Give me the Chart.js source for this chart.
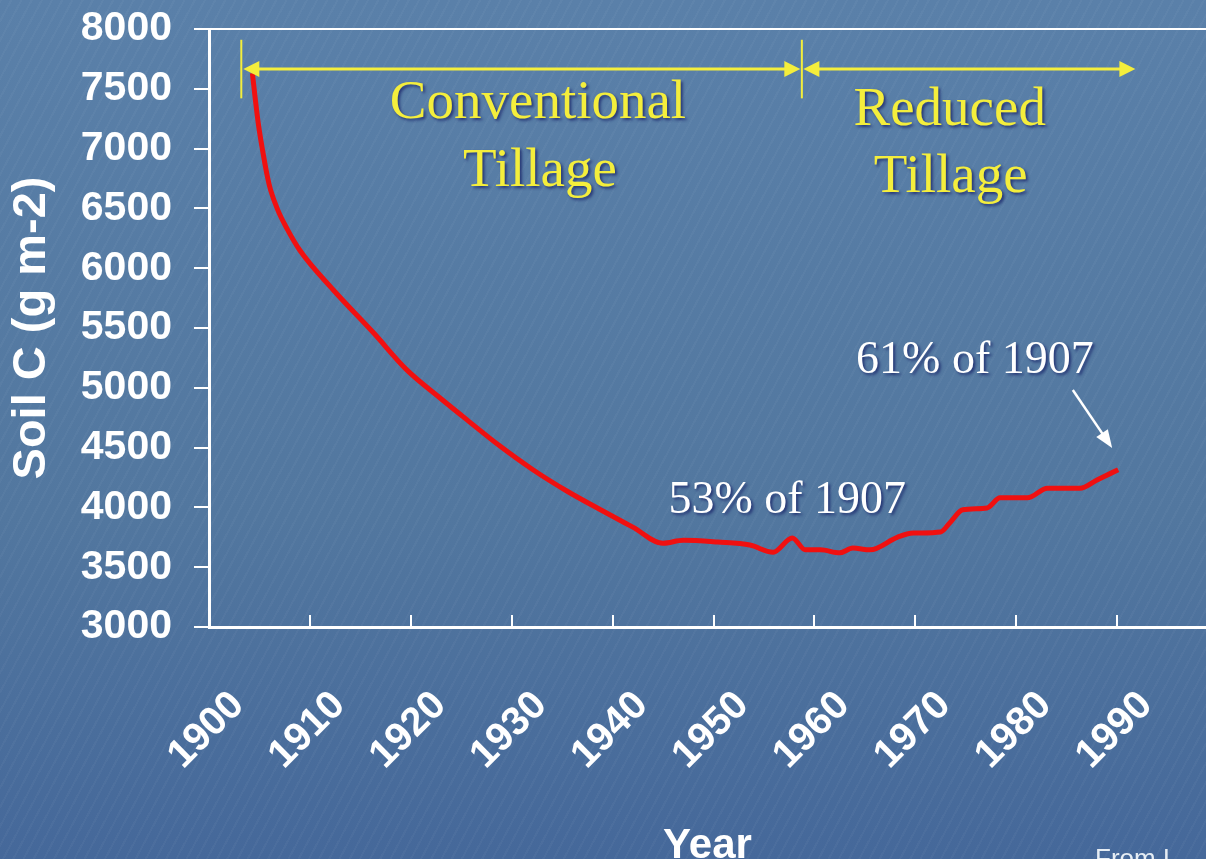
<!DOCTYPE html>
<html>
<head>
<meta charset="utf-8">
<script src="https://cdn.jsdelivr.net/npm/chart.js@4.4.0/dist/chart.umd.min.js"></script>
<style>
  html, body { margin: 0; padding: 0; }
  body {
    width: 1206px; height: 859px; overflow: hidden; position: relative;
    background:
      repeating-linear-gradient(118deg, rgba(255,255,255,0.03) 0 2px, rgba(0,0,0,0) 2px 9px),
      linear-gradient(#5a80a9, #52779f 60%, #45689a);
  }
  #chart { position: absolute; left: 0; top: 0; }
  #src { position: absolute; left: 1095px; top: 843px; font: 26px 'Liberation Sans', Arial, sans-serif; color: #e6edf4; white-space: nowrap; }
</style>
</head>
<body>
<canvas id="chart" width="1206" height="859"></canvas>
<div id="src">From L</div>
<script>
// soil carbon
var years = [1904.3, 1904.6, 1904.9, 1905.3, 1905.8, 1906.1, 1906.8, 1907.7, 1909.0, 1912.3,
             1916.3, 1919.6, 1922.9, 1925.6, 1928.8, 1932.1, 1935.5, 1938.8, 1942.0, 1945.0,
             1947.0, 1950.4, 1953.6, 1955.9, 1957.8, 1959.1, 1960.6, 1962.5, 1963.8, 1965.5,
             1968.2, 1969.8, 1972.5, 1973.4, 1974.7, 1977.1, 1978.4, 1981.1, 1983.1, 1986.3,
             1988.0, 1990.1];
var soilC = [7630, 7405, 7200, 6990, 6760, 6655, 6490, 6335, 6150, 5820,
             5460, 5150, 4915, 4730, 4515, 4315, 4135, 3980, 3835, 3700,
             3725, 3710, 3685, 3625, 3745, 3645, 3645, 3620, 3660, 3645,
             3750, 3785, 3795, 3870, 3980, 3995, 4080, 4080, 4160, 4160,
             4230, 4315];
var yearTicks = [1900, 1910, 1920, 1930, 1940, 1950, 1960, 1970, 1980, 1990];
var carbonTicks = [3000, 3500, 4000, 4500, 5000, 5500, 6000, 6500, 7000, 7500, 8000];

var yellow = '#f4ee3c';
var spans = [
  { from: 1903.4, to: 1958.6 },
  { from: 1958.9, to: 1991.8 }
];
var notes = [
  { text: 'Conventional', x: 1932.6, y: 7256, color: yellow, size: 55 },
  { text: 'Tillage', x: 1932.8, y: 6687, color: yellow, size: 55 },
  { text: 'Reduced', x: 1973.4, y: 7197, color: yellow, size: 55 },
  { text: 'Tillage', x: 1973.5, y: 6637, color: yellow, size: 55 },
  { text: '53% of 1907', x: 1957.3, y: 3953, color: '#ffffff', size: 46 },
  { text: '61% of 1907', x: 1975.9, y: 5124, color: '#ffffff', size: 46 }
];

var points = years.map(function (yr, i) { return { x: yr, y: soilC[i] }; });

function head(ctx, x1, y1, x2, y2, len, half) {
  var a = Math.atan2(y2 - y1, x2 - x1);
  ctx.beginPath();
  ctx.moveTo(x2, y2);
  ctx.lineTo(x2 - len * Math.cos(a) + half * Math.sin(a), y2 - len * Math.sin(a) - half * Math.cos(a));
  ctx.lineTo(x2 - len * Math.cos(a) - half * Math.sin(a), y2 - len * Math.sin(a) + half * Math.cos(a));
  ctx.closePath();
  ctx.fill();
}

var notesPlugin = {
  id: 'notes',
  afterDatasetsDraw: function (chart) {
    var ctx = chart.ctx, xs = chart.scales.x, ys = chart.scales.y;
    ctx.save();
    // tillage periods
    var ay = ys.getPixelForValue(7666);
    ctx.strokeStyle = yellow; ctx.fillStyle = yellow; ctx.lineWidth = 3;
    spans.forEach(function (s) {
      var a = xs.getPixelForValue(s.from), b = xs.getPixelForValue(s.to);
      ctx.beginPath(); ctx.moveTo(a + 10, ay); ctx.lineTo(b - 10, ay); ctx.stroke();
      head(ctx, b, ay, a, ay, 16, 8);
      head(ctx, a, ay, b, ay, 16, 8);
    });
    ctx.lineWidth = 2;
    [1903.2, 1958.75].forEach(function (yr) {
      var px = xs.getPixelForValue(yr);
      ctx.beginPath();
      ctx.moveTo(px, ys.getPixelForValue(7910));
      ctx.lineTo(px, ys.getPixelForValue(7420));
      ctx.stroke();
    });
    // labels
    ctx.textAlign = 'center'; ctx.textBaseline = 'alphabetic';
    notes.forEach(function (n) {
      ctx.font = n.size + 'px "Liberation Serif", "Times New Roman", serif';
      ctx.shadowColor = 'rgba(20,30,100,0.75)';
      ctx.shadowOffsetX = 2; ctx.shadowOffsetY = 2; ctx.shadowBlur = 3;
      ctx.fillStyle = n.color;
      ctx.fillText(n.text, xs.getPixelForValue(n.x), ys.getPixelForValue(n.y));
    });
    ctx.shadowColor = 'transparent';
    // pointer to the end value
    var x1 = xs.getPixelForValue(1985.6), y1 = ys.getPixelForValue(4982);
    var x2 = xs.getPixelForValue(1989.5), y2 = ys.getPixelForValue(4497);
    ctx.strokeStyle = '#ffffff'; ctx.fillStyle = '#ffffff'; ctx.lineWidth = 2.5;
    ctx.beginPath(); ctx.moveTo(x1, y1); ctx.lineTo(x2 - (x2 - x1) * 0.2, y2 - (y2 - y1) * 0.2); ctx.stroke();
    head(ctx, x1, y1, x2, y2, 18, 7);
    ctx.restore();
  }
};

var axisFont = { family: "'Liberation Sans', Arial, sans-serif", weight: 'bold' };

new Chart(document.getElementById('chart').getContext('2d'), {
  type: 'line',
  data: {
    datasets: [{
      data: points,
      borderColor: '#f01010',
      borderWidth: 5,
      pointRadius: 0,
      cubicInterpolationMode: 'monotone',
      fill: false
    }]
  },
  options: {
    responsive: false,
    animation: false,
    layout: { padding: { top: 29, right: 0, left: 0, bottom: 0 } },
    plugins: { legend: { display: false }, tooltip: { enabled: false } },
    scales: {
      x: {
        type: 'linear',
        min: 1900,
        max: 1998.8,
        afterFit: function (s) { s.height = 232; s.paddingLeft = 0; s.paddingRight = 0; s.paddingTop = 0; s.paddingBottom = 0; },
        afterBuildTicks: function (s) { s.ticks = yearTicks.map(function (v) { return { value: v }; }); },
        border: { color: '#ffffff', width: 3 },
        grid: { drawOnChartArea: false, tickColor: '#ffffff', tickLength: -12, lineWidth: 2 },
        ticks: {
          autoSkip: false,
          minRotation: 45, maxRotation: 45,
          padding: 67,
          labelOffset: 29,
          color: '#ffffff',
          font: Object.assign({ size: 40 }, axisFont),
          callback: function (v) { return String(v); }
        },
        title: {
          display: true, text: 'Year', color: '#ffffff',
          font: Object.assign({ size: 42, lineHeight: 0.75 }, axisFont),
          padding: { top: 0, bottom: -3 }
        }
      },
      y: {
        min: 3000,
        max: 8000,
        afterFit: function (s) { s.width = 209; s.paddingTop = 0; s.paddingBottom = 0; s.paddingLeft = 0; s.paddingRight = 0; },
        afterBuildTicks: function (s) { s.ticks = carbonTicks.map(function (v) { return { value: v }; }); },
        border: { color: '#ffffff', width: 3 },
        grid: {
          color: function (c) { return c.tick && c.tick.value === 8000 ? '#ffffff' : 'rgba(0,0,0,0)'; },
          tickColor: '#ffffff', tickLength: 15, lineWidth: 2
        },
        ticks: {
          padding: 22,
          color: '#ffffff',
          font: Object.assign({ size: 41 }, axisFont),
          callback: function (v) { return String(v); }
        },
        title: {
          display: true, text: 'Soil C (g m-2)', color: '#ffffff',
          font: Object.assign({ size: 47 }, axisFont),
          padding: { top: 4, bottom: 0 }
        }
      }
    }
  },
  plugins: [notesPlugin]
});
</script>
</body>
</html>
